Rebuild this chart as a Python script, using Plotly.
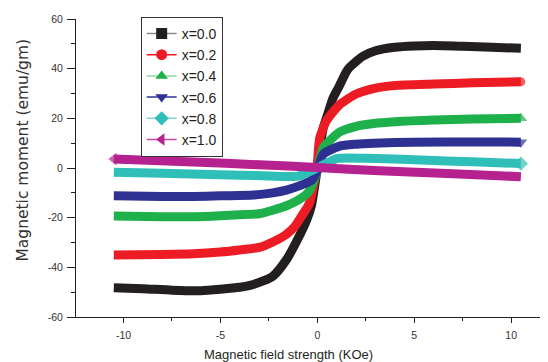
import plotly.graph_objects as go

# ---- data ----
labels = ["x=0.0", "x=0.2", "x=0.4", "x=0.6", "x=0.8", "x=1.0"]

h_00 = [-10.5, -9, -7.5, -6, -5, -4, -3.3, -2.3, -1.6, -1.1, -0.55, -0.3, 0, 0.3, 0.55, 0.8, 1.1, 1.57, 2.35, 3, 4, 5, 6, 7.5, 9, 10.5]
m_00 = [-48.2, -48.6, -49.2, -49.4, -48.8, -48.0, -46.9, -43.6, -37.0, -30.0, -21.0, -15.0, 0.0, 16.0, 22.0, 28.0, 32.5, 39.7, 45.0, 47.2, 48.6, 49.1, 49.3, 49.0, 48.6, 48.2]

h_02 = [-10.5, -8, -6.4, -5, -4, -3, -2.3, -1.6, -1.17, -0.83, -0.4, 0, 0.12, 0.47, 1.15, 2, 2.9, 4, 6, 8, 10.5]
m_02 = [-35.0, -34.8, -34.5, -33.8, -33.0, -32.0, -29.8, -26.7, -23.6, -19.6, -14.0, 2.0, 12.0, 19.0, 25.5, 29.8, 32.0, 33.2, 33.8, 34.3, 34.7]

h_04 = [-10.5, -8, -6.4, -5, -4, -3, -2.3, -1.6, -0.9, -0.45, 0, 0.3, 1.15, 2, 2.9, 4, 6, 8, 10.5]
m_04 = [-19.3, -19.6, -19.6, -19.2, -18.8, -18.4, -17.0, -15.2, -12.5, -9.6, -1.0, 8.0, 14.5, 16.8, 17.9, 18.6, 19.3, 19.7, 20.0]

h_06 = [-10.5, -8, -6.4, -5, -3.3, -2.3, -1.6, -0.9, -0.3, 0, 0.3, 1.15, 2, 2.9, 5, 8, 10.5]
m_06 = [-11.2, -11.5, -11.5, -11.2, -10.9, -10.0, -8.9, -7.1, -5.0, -1.0, 5.5, 8.8, 9.6, 10.0, 10.4, 10.5, 10.4]

h_08 = [-10.5, -8, -6, -4, -2.5, -1, 0, 1, 2.5, 4, 6, 8, 10.5]
m_08 = [-1.7, -2.1, -2.5, -2.9, -3.2, -3.3, 0.0, 3.8, 3.9, 3.6, 3.0, 2.5, 1.8]

h_10 = [-10.5, -6.4, -3, 0, 3.2, 7, 10.5]
m_10 = [3.6, 2.4, 1.3, 0.2, -1.1, -2.3, -3.5]

x_ticks = [-10, -5, 0, 5, 10]
y_ticks = [-60, -40, -20, 0, 20, 40, 60]

series_h = [h_00, h_02, h_04, h_06, h_08, h_10]
series_m = [m_00, m_02, m_04, m_06, m_08, m_10]

# ---- styles ----
colors = ["#231f20", "#ed1c24", "#1db04b", "#2e3192", "#30bfb8", "#b5218e"]
legend_line_colors = ["#8a8a8a", "#ed1c24", "#8fd6a2", "#2e3192", "#7fd8d3", "#c94aa6"]
symbols = ["square", "circle", "triangle-up", "triangle-down", "diamond", "triangle-left"]
end_marker_at = ["last", "last", "last", "last", "last", "first"]
end_sizes = [0, 9, 11, 11, 11, 11]

FONT = "Liberation Sans, Arial, sans-serif"
fig = go.Figure()

for i in range(6):
    n = len(series_h[i])
    sizes = [0] * n
    if end_marker_at[i] == "last":
        sizes[-1] = end_sizes[i]
    else:
        sizes[0] = end_sizes[i]
    fig.add_trace(go.Scatter(
        x=series_h[i], y=series_m[i], mode="lines+markers",
        line=dict(color=colors[i], width=9, shape="spline", smoothing=0.6),
        marker=dict(symbol=symbols[i], size=sizes, color=colors[i], line=dict(width=0)),
        showlegend=False, hoverinfo="skip"))

for i in range(6):
    fig.add_trace(go.Scatter(
        x=[None], y=[None], mode="lines+markers", name=labels[i],
        line=dict(color=legend_line_colors[i], width=1.5),
        marker=dict(symbol=symbols[i], size=11, color=colors[i], line=dict(width=0))))

# page body has an 8px default margin, so the figure is 8px smaller than the window
fig.update_layout(
    width=540, height=354,
    margin=dict(l=68, r=0, t=11, b=45, autoexpand=False),
    paper_bgcolor="white", plot_bgcolor="white",
    font=dict(family=FONT, size=10, color="#333333"),
    showlegend=True,
    legend=dict(x=0.137, y=1.007, xanchor="left", yanchor="top",
                bordercolor="#333333", borderwidth=1, bgcolor="white",
                font=dict(size=14, color="#231f20"), itemwidth=30,
                tracegroupgap=0),
    xaxis=dict(range=[-12.45, 11.9], tickvals=x_ticks, ticktext=[str(v) for v in x_ticks],
               showgrid=False, zeroline=False, showline=True, linecolor="#231f20", linewidth=1,
               ticks="outside", ticklen=5, tickcolor="#231f20", automargin=False,
               ticklabelstandoff=3,
               minor=dict(dtick=2.5, tick0=0, ticks="outside", ticklen=3, tickcolor="#231f20"),
               tickfont=dict(size=10.5, color="#333333")),
    yaxis=dict(range=[-60, 60], tickvals=y_ticks, ticktext=[str(v) for v in y_ticks],
               showgrid=False, zeroline=False, showline=True, linecolor="#231f20", linewidth=1,
               ticks="outside", ticklen=8, tickcolor="#231f20", ticklabelstandoff=2, automargin=False,
               minor=dict(dtick=10, tick0=0, ticks="outside", ticklen=4, tickcolor="#231f20"),
               tickfont=dict(size=10.5, color="#333333")),
    annotations=[
        dict(text="Magnetic field strength (KOe)", xref="paper", yref="paper",
             x=0.451, y=-0.1275, xanchor="center", yanchor="middle", showarrow=False,
             font=dict(size=13, color="#231f20", family=FONT)),
        dict(text="Magnetic moment (emu/gm)", xref="paper", yref="paper",
             x=-0.112, y=0.559, xanchor="center", yanchor="middle", showarrow=False,
             textangle=-90, font=dict(size=15.5, color="#333333", family="DejaVu Sans, sans-serif")),
    ],
)

fig.write_html("out.html")
